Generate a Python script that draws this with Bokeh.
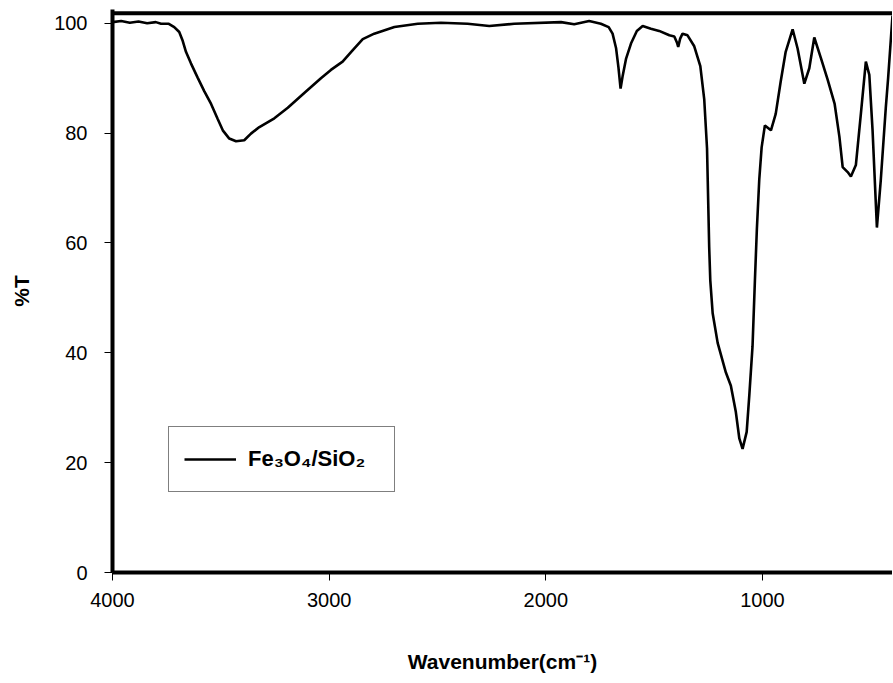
from bokeh.plotting import figure
from bokeh.models import Range1d, FixedTicker, Legend, LegendItem, Span
from bokeh.embed import file_html
from bokeh.resources import INLINE

# FT-IR spectrum of Fe3O4/SiO2
wavenumber = [4000, 3960, 3920, 3880, 3840, 3800, 3776, 3740, 3715, 3692, 3676, 3661,
              3638, 3607, 3576, 3545, 3515, 3491, 3461, 3430, 3392, 3361, 3322, 3253,
              3191, 3115, 3038, 2992, 2938, 2891, 2845, 2792, 2699, 2591, 2484, 2361,
              2261, 2146, 1930, 1869, 1800, 1746, 1710, 1692, 1676, 1665, 1655, 1645,
              1630, 1607, 1580, 1553, 1515, 1477, 1430, 1407, 1395, 1389, 1380, 1369,
              1346, 1315, 1287, 1269, 1256, 1246, 1241, 1230, 1207, 1169, 1146, 1123,
              1107, 1092, 1073, 1061, 1046, 1035, 1026, 1015, 1004, 989, 961, 939, 916,
              893, 861, 838, 807, 784, 761, 730, 699, 667, 645, 630, 607, 592, 569, 546,
              523, 507, 492, 472, 454, 431, 420, 400]
transmittance = [100.2, 100.4, 100.1, 100.3, 100.0, 100.2, 99.9, 99.9, 99.3, 98.4, 96.8, 94.8,
                 92.7, 90.1, 87.6, 85.3, 82.6, 80.5, 79.0, 78.5, 78.7, 79.9, 81.1, 82.7,
                 84.6, 87.3, 90.0, 91.5, 93.0, 95.1, 97.1, 98.1, 99.3, 99.9, 100.1, 99.9,
                 99.5, 99.9, 100.2, 99.8, 100.4, 99.9, 99.3, 98.1, 95.5, 92.0, 88.1, 90.5,
                 93.5, 96.3, 98.6, 99.5, 99.0, 98.6, 97.8, 97.6, 96.5, 95.7, 97.2, 98.1,
                 97.8, 95.8, 92.2, 86.2, 77.2, 59.2, 53.2, 47.2, 41.8, 36.4, 34.0, 29.2,
                 24.4, 22.5, 25.6, 32.2, 41.2, 53.2, 62.5, 71.5, 77.4, 81.4, 80.5, 83.5, 89.4,
                 94.8, 98.9, 95.4, 89.0, 91.8, 97.4, 93.6, 89.7, 85.3, 79.3, 73.8, 72.9, 72.1, 74.2, 83.5,
                 93.0, 90.6, 80.5, 62.8, 71.5, 84.6, 90.1, 101.4]
x_ticks = [4000, 3000, 2000, 1000]
y_ticks = [0, 20, 40, 60, 80, 100]
series_label = "Fe\u2083O\u2084/SiO\u2082"
plot_top = 101.8   # upper edge of the plot area, in %T

FONT = "Liberation Sans"

p = figure(width=892, height=675, output_backend="svg", toolbar_location=None,
           x_range=Range1d(4000, 400), y_range=Range1d(0, 102.5),
           min_border_left=112, min_border_right=0, min_border_top=9, min_border_bottom=96)
p.background_fill_color = "white"
p.border_fill_color = "white"
p.outline_line_color = None
p.xgrid.visible = False
p.ygrid.visible = False

r = p.line(wavenumber, transmittance, line_color="black", line_width=2.6)

for ax in (p.xaxis[0], p.yaxis[0]):
    ax.axis_line_width = 4
    ax.axis_line_color = "black"
    ax.major_tick_line_color = "black"
    ax.major_tick_line_width = 1
    ax.major_tick_out = 8
    ax.major_tick_in = 0
    ax.minor_tick_line_color = None
    ax.major_label_text_font = FONT
    ax.major_label_text_font_size = "20px"
    ax.major_label_text_color = "black"
    ax.axis_label_text_font = FONT
    ax.axis_label_text_font_size = "21px"
    ax.axis_label_text_font_style = "bold"
    ax.axis_label_text_color = "black"

p.xaxis.major_label_standoff = 12
p.yaxis.major_label_standoff = 17
p.xaxis.ticker = FixedTicker(ticks=x_ticks)
p.yaxis.ticker = FixedTicker(ticks=y_ticks)
p.xaxis.axis_label = "Wavenumber(cm\u207b\u00b9)"
p.yaxis.axis_label = "%T"
p.xaxis.axis_label_standoff = 40
p.yaxis.axis_label_standoff = 18

top = Span(location=plot_top, dimension="width", line_color="black", line_width=4)
p.add_layout(top)

legend = Legend(items=[LegendItem(label=series_label, renderers=[r])],
                location=(56, 80), orientation="vertical",
                border_line_color="black", border_line_width=1.5,
                background_fill_color="white", background_fill_alpha=1,
                label_text_font=FONT, label_text_font_size="22px",
                label_text_font_style="bold", label_text_color="black",
                glyph_width=52, glyph_height=34, label_height=34, label_width=131,
                label_standoff=12, padding=15, spacing=0, margin=0)
p.add_layout(legend, "center")

open("out.html", "w").write(file_html(p, INLINE))
